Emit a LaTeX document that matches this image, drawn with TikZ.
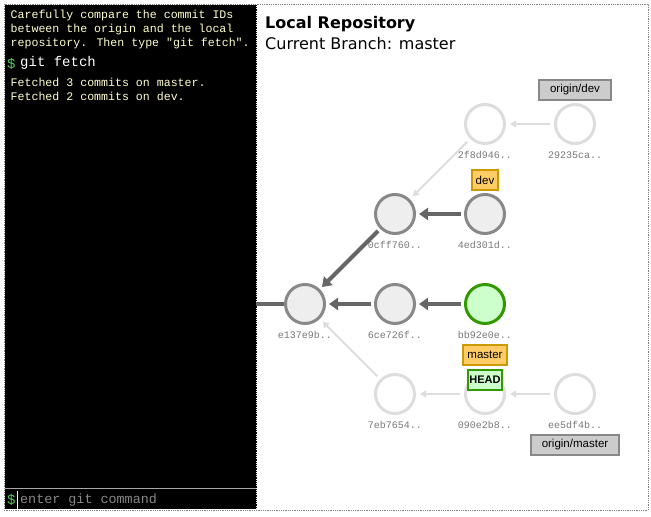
\documentclass[tikz,border=0pt]{standalone}
\usepackage{fontspec}
\setmainfont{DejaVu Sans}
\newfontfamily\monof{Liberation Mono}
\newfontfamily\arialf{Liberation Sans}
\usetikzlibrary{arrows.meta}
\definecolor{termtxt}{HTML}{FFFFCC}
\definecolor{dollar}{HTML}{55CC55}
\definecolor{cmtgray}{HTML}{888888}
\definecolor{cmtfill}{HTML}{EEEEEE}
\definecolor{darkarr}{HTML}{666666}
\definecolor{fade}{HTML}{DDDDDD}
\definecolor{headfill}{HTML}{CCFFCC}
\definecolor{headdraw}{HTML}{339900}
\definecolor{brfill}{HTML}{FFCC66}
\definecolor{brdraw}{HTML}{CC9900}
\definecolor{orfill}{HTML}{CCCCCC}
\definecolor{ordraw}{HTML}{888888}
\definecolor{idcol}{HTML}{777777}
\tikzset{
  commit/.style={circle,minimum size=39pt,inner sep=0pt,line width=3pt,draw=cmtgray,fill=cmtfill},
  headcommit/.style={commit,draw=headdraw,fill=headfill},
  fadecommit/.style={commit,draw=fade,fill=white},
  cid/.style={font=\monof\fontsize{10}{12}\selectfont,text=idcol,inner sep=0pt},
  darr/.style={draw=darkarr,line width=4pt,-{Triangle[length=9pt,width=12pt]},shorten >=3pt,shorten <=3pt},
  farr/.style={draw=fade,line width=2pt,-{Triangle[length=6pt,width=7pt]},shorten >=4pt,shorten <=4pt},
  brlabel/.style={font=\arialf\fontsize{11.5}{13}\selectfont,draw=brdraw,fill=brfill,line width=2pt,inner xsep=4pt,minimum height=20pt},
  orlabel/.style={brlabel,draw=ordraw,fill=orfill,inner xsep=11pt},
  headlabel/.style={brlabel,draw=headdraw,fill=headfill,font=\arialf\bfseries\fontsize{11}{13}\selectfont,inner xsep=1pt},
  term/.style={font=\monof\fontsize{11.6}{14}\selectfont,text=termtxt,inner sep=0pt,anchor=west}
}
\begin{document}
\begin{tikzpicture}[x=1pt,y=-1pt]
\useasboundingbox (0,0) rectangle (651,517);
% terminal
\fill[black] (5,5) rectangle (256,509);
\draw[gray,densely dotted,line width=0.8pt] (4,4) rectangle (648,510);
\draw[black,densely dotted,line width=0.8pt] (256,5) -- (256,509);
\node[term] (t1) at (10.5,15) {Carefully compare the commit IDs};
\node[term] (t2) at (10.5,29) {between the origin and the local};
\node[term] (t3) at (10.5,43) {repository. Then type "git fetch".};
\node[font=\monof\fontsize{14}{16}\selectfont,text=dollar,inner sep=0pt,anchor=west] (d1) at (7,64) {\$};
\node[font=\monof\fontsize{14}{16}\selectfont,text=white,inner sep=0pt,anchor=west] (c1) at (20,63) {git fetch};
\node[term] (t4) at (10.5,82) {Fetched 3 commits on master.};
\node[term] (t5) at (10.5,96) {Fetched 2 commits on dev.};
\draw[gray!70,line width=1pt] (5,488) -- (256,488);
\node[font=\monof\fontsize{14}{16}\selectfont,text=dollar,inner sep=0pt,anchor=west] (d2) at (7,500) {\$};
\draw[white,line width=1pt] (17,491) -- (17,509);
\node[font=\monof\fontsize{13.4}{16}\selectfont,text=cmtgray,inner sep=0pt,anchor=west] (inp) at (20,500) {enter git command};
% header
\node[font=\bfseries\fontsize{16}{19}\selectfont,inner sep=0pt,anchor=west] (h1) at (265,24) {Local Repository};
\node[font=\fontsize{16}{19}\selectfont,inner sep=0pt,anchor=west] (h2) at (265,44) {Current Branch: master};
% commits
\node[commit] (e137) at (305,304) {};
\node[commit] (6ce7) at (395,304) {};
\node[headcommit] (bb92) at (485,304) {};
\node[commit] (0cff) at (395,214) {};
\node[commit] (4ed3) at (485,214) {};
\node[fadecommit] (2f8d) at (485,124) {};
\node[fadecommit] (2923) at (575,124) {};
\node[fadecommit] (7eb7) at (395,394) {};
\node[fadecommit] (090e) at (485,394) {};
\node[fadecommit] (ee5d) at (575,394) {};
\node[cid] at (305,335) {e137e9b..};
\node[cid] at (395,335) {6ce726f..};
\node[cid] at (485,335) {bb92e0e..};
\node[cid] at (395,245) {0cff760..};
\node[cid] at (485,245) {4ed301d..};
\node[cid] at (485,155) {2f8d946..};
\node[cid] at (575,155) {29235ca..};
\node[cid] at (395,425) {7eb7654..};
\node[cid] at (485,425) {090e2b8..};
\node[cid] at (575,425) {ee5df4b..};
% connectors
\coordinate (leftend) at (256,304);
\draw[darkarr,line width=4pt] (leftend) -- (e137.west);
\draw[darr] (6ce7) -- (e137);
\draw[darr] (bb92) -- (6ce7);
\draw[darr] (4ed3) -- (0cff);
\draw[darr] (0cff) -- (e137);
\draw[farr] (2923) -- (2f8d);
\draw[farr] (2f8d) -- (0cff);
\draw[farr] (7eb7) -- (e137);
\draw[farr] (090e) -- (7eb7);
\draw[farr] (ee5d) -- (090e);
% branch labels
\node[orlabel] (ordev) at (575,90) {origin/dev};
\node[brlabel] (dev) at (485,180) {dev};
\node[brlabel] (master) at (485,355) {master};
\node[headlabel] (head) at (485,380) {HEAD};
\node[orlabel] (ormaster) at (575,445) {origin/master};
\end{tikzpicture}
\end{document}
